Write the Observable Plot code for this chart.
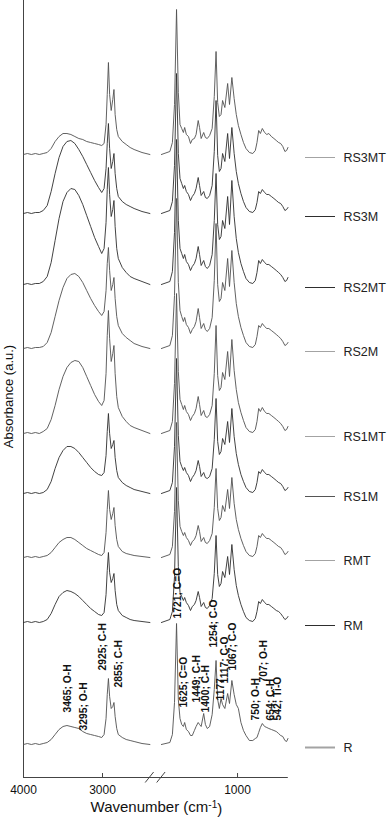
<!DOCTYPE html>
<html><head><meta charset="utf-8">
<script src="https://cdn.jsdelivr.net/npm/d3@7"></script>
<script src="https://cdn.jsdelivr.net/npm/@observablehq/plot@0.6"></script>
<style>
body{margin:0;background:#fff;font-family:"Liberation Sans",Arial,sans-serif}
#chart{position:relative;width:389px;height:825px;overflow:hidden}
#chart svg{position:absolute;top:0}
</style>
</head><body><div id="chart"></div>
<script>
// ---- data (absorbance in arbitrary units, offset-stacked) ----
const seriesNames = ["RS3MT","RS3M","RS2MT","RS2M","RS1MT","RS1M","RMT","RM","R"];
const seriesOffsets = [623,564,493,429,344,284,220,155,33];

const wnLeft = [4000,3950,3900,3850,3800,3750,3700,3650,3600,3550,3500,3450,3400,3350,3300,3250,3200,3150,3100,3050,3010,2980,2955,2940,2925,2910,2890,2870,2855,2840,2820,2800,2750,2700,2650,2600,2500,2400];
const wnRight = [1900,1800,1770,1745,1721,1700,1680,1660,1640,1625,1605,1580,1556,1535,1510,1490,1465,1449,1430,1400,1380,1358,1330,1300,1275,1254,1235,1215,1195,1177,1150,1117,1095,1067,1040,1015,990,960,930,900,860,820,790,770,750,730,707,680,654,630,600,570,542,515,490,465,440,420,404];

const rs3mtLeft = [0,1,0,1,0,1,2,6,13,18,21,21,20,18,16,15,13,12,11,10,9,11,30,60,92,60,44,55,65,40,25,18,13,10,7,5,2,0];
const rs3mLeft  = [0,1,0,1,1,3,8,22,40,56,67,72,73,70,64,57,49,41,33,26,21,25,45,70,90,65,45,52,60,40,25,17,12,9,7,5,2,0];
const rs2mtLeft = [0,1,0,1,1,3,8,22,44,66,83,92,96,95,89,80,69,58,47,38,31,36,62,95,117,90,68,75,84,58,36,26,17,12,8,6,3,0];
const rs2mLeft  = [0,1,0,1,1,2,6,16,32,48,61,70,74,75,72,66,58,50,43,37,33,37,58,85,101,78,58,64,71,50,32,23,15,11,8,5,2,0];
const rs1mtLeft = [0,1,0,1,0,2,5,14,28,44,57,66,71,73,72,66,57,48,39,32,28,33,60,98,123,95,72,80,88,60,37,26,17,12,8,6,3,0];
const rs1mLeft  = [0,1,0,1,0,1,4,12,25,36,43,47,47,45,41,36,31,26,22,19,18,21,38,62,80,60,45,49,53,36,23,16,11,8,6,4,2,0];
const rmtLeft   = [0,1,0,1,0,1,2,5,10,15,18,20,20,18,15,12,9,7,5,3,2,5,25,48,67,48,38,44,50,32,18,11,6,4,3,2,1,0];
const rmLeft    = [0,1,0,1,0,1,3,9,18,26,30,32,31,29,26,22,18,14,11,8,7,10,28,52,70,50,40,44,49,32,18,12,7,5,3,2,1,0];
const rLeft     = [0,1,0,1,0,1,2,5,10,15,18,19,18,17,16,13,11,10,9,8,7,10,26,50,66,48,36,38,42,28,16,10,7,5,4,3,1,0];

const rs3mtRight = [0,3,12,50,145,62,30,26,22,27,20,18,11,15,16,20,34,27,16,22,17,16,19,26,58,103,52,38,40,54,47,71,50,77,56,40,29,20,12,6,2,1,4,12,24,21,26,22,20,21,18,16,14,12,11,8,3,4,7];
const rs3mRight  = [0,3,12,48,140,60,35,30,25,28,22,19,13,17,20,25,36,28,18,22,16,15,18,28,62,113,58,42,45,60,52,80,55,86,60,42,30,20,12,6,2,1,4,11,22,20,24,21,19,19,17,15,13,11,10,7,3,4,6];
const rs2mtRight = [0,3,13,52,145,64,36,31,26,30,23,20,14,18,21,26,38,30,19,24,18,16,19,30,64,111,60,45,48,64,56,88,60,104,68,46,32,21,13,6,2,1,4,12,24,21,25,22,20,20,18,16,14,12,10,7,3,4,7];
const rs2mRight  = [0,3,13,53,150,66,38,32,27,31,24,21,15,19,22,27,40,31,20,25,19,17,20,31,68,125,64,47,50,66,58,90,62,98,66,45,32,21,13,6,2,1,4,12,23,21,25,22,20,20,18,16,14,12,10,7,3,4,6];
const rs1mtRight = [0,3,12,50,140,62,34,29,24,28,22,19,13,17,20,25,37,29,18,23,17,16,19,28,60,108,58,43,46,61,54,82,57,94,63,44,31,21,13,6,2,1,4,12,25,22,26,22,20,20,18,16,14,12,10,7,3,4,7];
const rs1mRight  = [0,3,11,47,135,58,32,27,23,26,21,18,12,16,19,23,33,27,17,21,16,15,17,25,54,95,52,39,42,55,49,72,51,85,57,40,29,19,12,6,2,1,4,11,22,20,24,21,19,19,17,15,13,11,10,7,3,4,6];
const rmtRight   = [0,3,11,46,135,57,31,26,22,25,20,17,12,16,18,22,32,26,16,20,15,14,17,24,50,89,49,37,40,52,46,68,49,80,54,38,28,19,12,6,2,1,4,11,22,20,24,21,19,19,17,15,13,11,10,7,3,4,6];
const rmRight    = [0,3,11,46,135,56,30,26,22,25,20,17,12,16,18,22,31,25,16,20,15,14,17,24,49,87,48,36,39,51,45,66,48,78,53,37,27,18,11,5,2,1,4,11,21,19,23,20,18,18,16,14,12,11,9,6,3,4,6];
const rRight     = [0,2,10,42,121,45,26,20,18,22,15,13,9,9,14,18,22,20,18,31,20,16,18,30,55,84,45,36,46,40,36,51,41,64,50,40,36,22,14,9,4,4,6,7,12,17,21,18,17,16,15,14,13,11,9,8,4,3,6];

const xTicksLeft = [4000, 3000];
const xTicksRight = [1000];

const annoText  = ["3465; O-H","3295; O-H","2925; C-H","2855; C-H","1721; C=O","1625; C=O","1449; C-H","1400; C-H","1254; C-O","1177","1117; C-O","1067; C-O","750; O-H","707; O-H","654; C-H","542; Ti-O"];
const annoWn    = [3443,3240,3000,2797,1709,1638,1485,1378,1284,1201,1154,1059,787,693,610,527];
const annoLevel = [65,47,107,90,159,70,75,65,130,77,94,107,57,95,57,57];

// ---- layout / style ----
const W = 389, H = 825, yMax = 777, mB = 48;
const splitX = 155;                       // where the two panels meet
const leftPx = [23, 149.4], rightPx = [160.9, 287.8];
const leftDomain = [4000, 2400], rightDomain = [1900, 400];
const font = "'Liberation Sans', Arial, sans-serif";

const leftArrays = [rs3mtLeft, rs3mLeft, rs2mtLeft, rs2mLeft, rs1mtLeft, rs1mLeft, rmtLeft, rmLeft, rLeft];
const rightArrays = [rs3mtRight, rs3mRight, rs2mtRight, rs2mRight, rs1mtRight, rs1mRight, rmtRight, rmRight, rRight];
const darkSet = new Set(["RS3M","RS2MT","RS1M","RM"]);
const lineColor = n => darkSet.has(n) ? "#2e2e2e" : "#505050";
const legendColor = n => n === "RS1M" ? "#555" : darkSet.has(n) ? "#2e2e2e" : "#a3a3a3";

const rowsL = [], rowsR = [];
seriesNames.forEach((name, i) => {
  wnLeft.forEach((wn, j) => rowsL.push({key: name, wn, a: seriesOffsets[i] + leftArrays[i][j], col: lineColor(name)}));
  wnRight.forEach((wn, j) => rowsR.push({key: name, wn, a: seriesOffsets[i] + rightArrays[i][j], col: lineColor(name)}));
});
const series = seriesNames.map((name, i) => ({name, offset: seriesOffsets[i], lc: legendColor(name), lw: name === "R" ? 2 : 1}));
const annos = annoText.map((t, i) => ({t, wn: annoWn[i], a: seriesOffsets[8] + annoLevel[i] - 33}));
const annosL = annos.filter(d => d.wn > 2000), annosR = annos.filter(d => d.wn < 2000);

// pixel helpers (global coordinates) for extrapolated decorations
const xsL = d3.scaleLinear(leftDomain, leftPx);
const xsR = d3.scaleLinear(rightDomain, rightPx);

const annoMark = data => Plot.text(data, {x: "wn", y: "a", text: "t", rotate: -90, textAnchor: "start", lineAnchor: "middle", fontSize: 10.3, fontWeight: "bold", fill: "#111"});
const common = {
  height: H, marginTop: 0, marginBottom: mB,
  style: {fontFamily: font, fontSize: "12px", background: "transparent", color: "#111", overflow: "visible"},
  y: {domain: [0, yMax], axis: null},
  color: {type: "identity"}
};

const left = Plot.plot({
  ...common,
  width: splitX, marginLeft: leftPx[0], marginRight: splitX - leftPx[1],
  x: {domain: leftDomain, ticks: xTicksLeft, tickFormat: d => String(d), tickSize: 0, tickPadding: 8, label: null},
  marks: [
    Plot.ruleX([4000], {y1: 0, y2: yMax, stroke: "#444", strokeWidth: 1}),
    Plot.ruleY([0], {x1: 4000, x2: xsL.invert(splitX + 0.5), stroke: "#444", strokeWidth: 1}),
    Plot.ruleX(xTicksLeft, {y1: 0, y2: 4, stroke: "#444"}),
    Plot.line(rowsL, {x: "wn", y: "a", z: "key", stroke: "col", strokeWidth: 0.9}),
    annoMark(annosL),
    Plot.text(["Absorbance (a.u.)"], {text: d => d, y: 381, frameAnchor: "left", textAnchor: "middle", rotate: -90, dx: -15, fontSize: 13, fill: "#111"})
  ]
});

const shift = x => x - splitX;  // convert global px to right-panel px
const right = Plot.plot({
  ...common,
  width: W - splitX, marginLeft: shift(rightPx[0]), marginRight: W - rightPx[1],
  x: {domain: rightDomain, ticks: xTicksRight, tickFormat: d => String(d), tickSize: 0, tickPadding: 8, label: null},
  marks: [
    Plot.ruleY([0], {x1: xsR.invert(splitX - 0.5), x2: 400, stroke: "#444", strokeWidth: 1}),
    Plot.ruleX(xTicksRight, {y1: 0, y2: 4, stroke: "#444"}),
    Plot.line(rowsR, {x: "wn", y: "a", z: "key", stroke: "col", strokeWidth: 0.9}),
    annoMark(annosR),
    Plot.ruleY(series, {y: "offset", x1: xsR.invert(305), x2: xsR.invert(335), stroke: "lc", strokeWidth: "lw", dy: 3}),
    Plot.text(series, {x: xsR.invert(343), y: "offset", text: "name", textAnchor: "start", fontSize: 12.5, fill: "#222", dy: 3})
  ]
});

const chart = document.getElementById("chart");
left.style.left = "0px";
right.style.left = splitX + "px";
chart.appendChild(left);
chart.appendChild(right);

// overlay: axis title with superscript and axis-break marks
const over = d3.select(chart).append("svg")
  .attr("width", W).attr("height", H).style("left", "0px").style("pointer-events", "none");
const title = over.append("text")
  .attr("x", (leftPx[0] + rightPx[1]) / 2 + 1).attr("y", 812)
  .attr("text-anchor", "middle").attr("font-size", 15).attr("fill", "#111")
  .attr("font-family", font);
title.append("tspan").text("Wavenumber (cm");
title.append("tspan").attr("dy", "-0.45em").attr("font-size", "10").text("-1");
title.append("tspan").attr("dy", "0.45em").text(")");
[xsL(2400), xsR(1900)].forEach(cx => {
  over.append("line").attr("x1", cx - 4.2).attr("y1", yMax + 5.5).attr("x2", cx + 4.2).attr("y2", yMax - 5)
    .attr("stroke", "#444").attr("stroke-width", 1);
});
</script>
</body></html>
